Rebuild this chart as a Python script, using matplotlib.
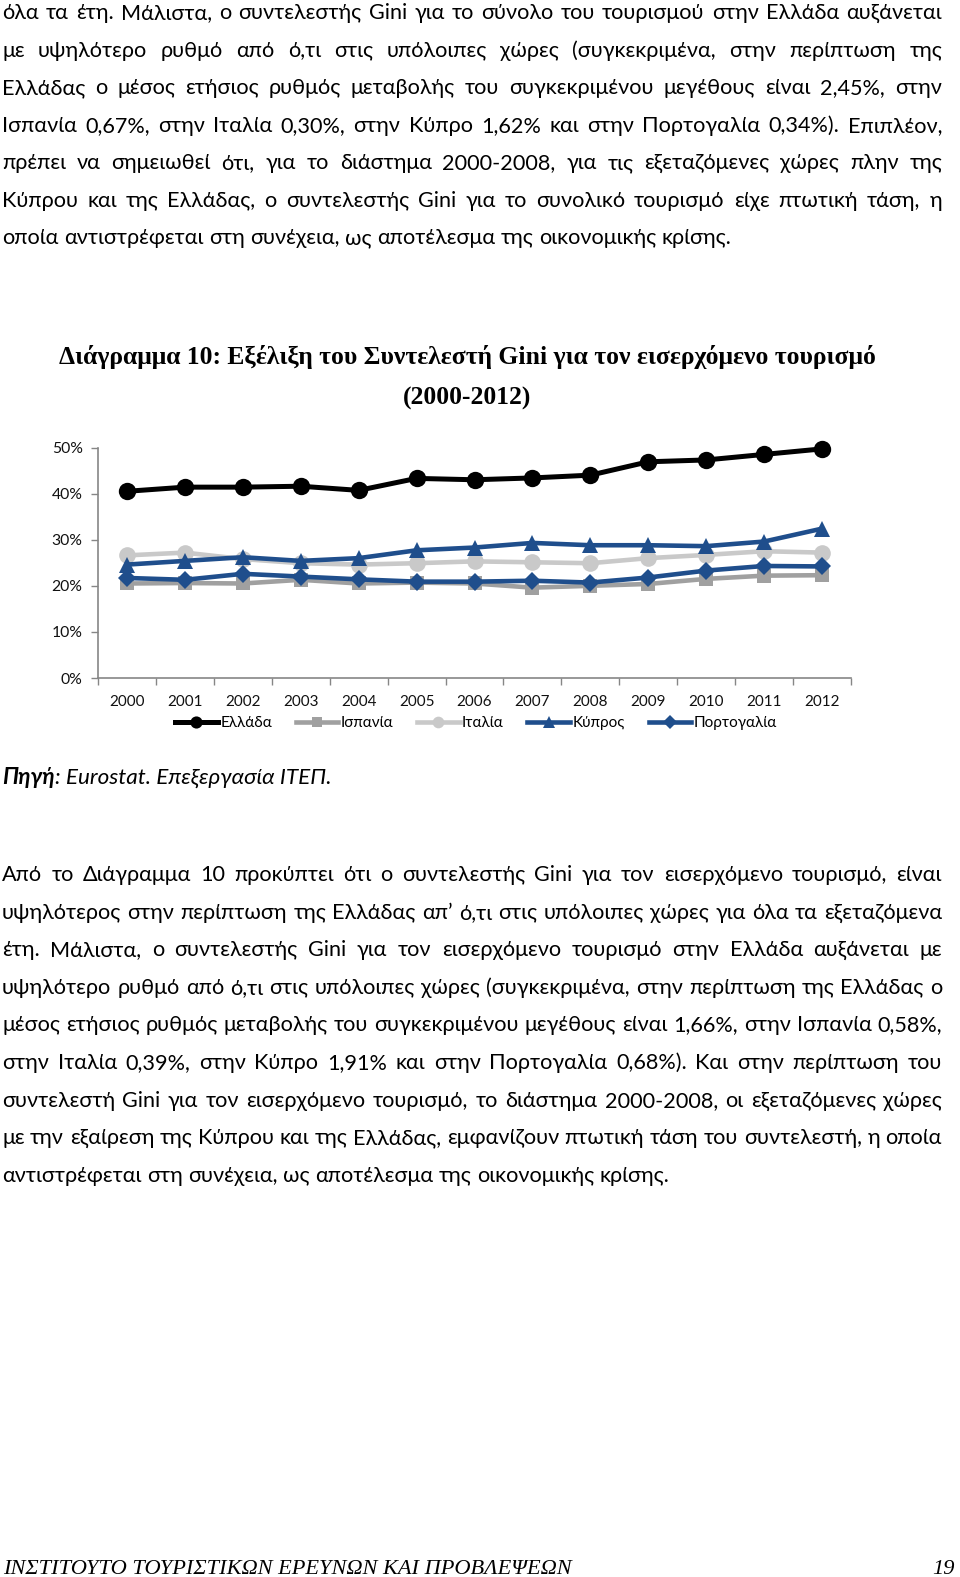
import matplotlib
matplotlib.use('Agg')
import matplotlib.pyplot as plt
from matplotlib.lines import Line2D
import numpy as np

# ---------------- data ----------------
years = ['2000', '2001', '2002', '2003', '2004', '2005', '2006',
         '2007', '2008', '2009', '2010', '2011', '2012']
greece = [40.5, 41.4, 41.4, 41.6, 40.7, 43.3, 43.0, 43.4, 44.0, 46.9, 47.3, 48.5, 49.7]
spain = [20.5, 20.6, 20.5, 21.3, 20.5, 20.7, 20.5, 19.6, 20.0, 20.4, 21.5, 22.2, 22.3]
italy = [26.6, 27.2, 25.8, 24.9, 24.6, 24.9, 25.3, 25.1, 24.9, 26.0, 26.7, 27.5, 27.2]
cyprus = [24.6, 25.4, 26.2, 25.4, 26.0, 27.7, 28.3, 29.3, 28.8, 28.8, 28.6, 29.6, 32.4]
portugal = [21.7, 21.3, 22.6, 22.0, 21.4, 20.9, 20.9, 21.1, 20.7, 21.8, 23.3, 24.3, 24.2]
series_names = ['Ελλάδα', 'Ισπανία', 'Ιταλία', 'Κύπρος', 'Πορτογαλία']
ytick_values = [0, 10, 20, 30, 40, 50]
ytick_labels = ['0%', '10%', '20%', '30%', '40%', '50%']

title_lines = ['Διάγραμμα 10: Εξέλιξη του Συντελεστή Gini για τον εισερχόμενο τουρισμό',
               '(2000-2012)']

para1 = [
    'όλα τα έτη. Μάλιστα, ο συντελεστής Gini για το σύνολο του τουρισμού στην Ελλάδα αυξάνεται',
    'με υψηλότερο ρυθμό από ό,τι στις υπόλοιπες χώρες (συγκεκριμένα, στην περίπτωση της',
    'Ελλάδας ο μέσος ετήσιος ρυθμός μεταβολής του συγκεκριμένου μεγέθους είναι 2,45%, στην',
    'Ισπανία 0,67%, στην Ιταλία 0,30%, στην Κύπρο 1,62% και στην Πορτογαλία 0,34%). Επιπλέον,',
    'πρέπει να σημειωθεί ότι, για το διάστημα 2000-2008, για τις εξεταζόμενες χώρες πλην της',
    'Κύπρου και της Ελλάδας, ο συντελεστής Gini για το συνολικό τουρισμό είχε πτωτική τάση, η',
    'οποία αντιστρέφεται στη συνέχεια, ως αποτέλεσμα της οικονομικής κρίσης.',
]
para2 = [
    'Από το Διάγραμμα 10 προκύπτει ότι ο συντελεστής Gini για τον εισερχόμενο τουρισμό, είναι',
    'υψηλότερος στην περίπτωση της Ελλάδας απ’ ό,τι στις υπόλοιπες χώρες για όλα τα εξεταζόμενα',
    'έτη. Μάλιστα, ο συντελεστής Gini για τον εισερχόμενο τουρισμό στην Ελλάδα αυξάνεται με',
    'υψηλότερο ρυθμό από ό,τι στις υπόλοιπες χώρες (συγκεκριμένα, στην περίπτωση της Ελλάδας ο',
    'μέσος ετήσιος ρυθμός μεταβολής του συγκεκριμένου μεγέθους είναι 1,66%, στην Ισπανία 0,58%,',
    'στην Ιταλία 0,39%, στην Κύπρο 1,91% και στην Πορτογαλία 0,68%). Και στην περίπτωση του',
    'συντελεστή Gini για τον εισερχόμενο τουρισμό, το διάστημα 2000-2008, οι εξεταζόμενες χώρες',
    'με την εξαίρεση της Κύπρου και της Ελλάδας, εμφανίζουν πτωτική τάση του συντελεστή, η οποία',
    'αντιστρέφεται στη συνέχεια, ως αποτέλεσμα της οικονομικής κρίσης.',
]
source_bold = 'Πηγή'
source_rest = ': Eurostat. Επεξεργασία ΙΤΕΠ.'
footer_text = 'ΙΝΣΤΙΤΟΥΤΟ ΤΟΥΡΙΣΤΙΚΩΝ ΕΡΕΥΝΩΝ ΚΑΙ ΠΡΟΒΛΕΨΕΩΝ'
page_number = '19'

# ---------------- figure ----------------
W, H = 960, 1577
fig = plt.figure(figsize=(W / 100, H / 100), dpi=100)
renderer = fig.canvas.get_renderer()
BODY = ['Lato', 'Roboto', 'DejaVu Sans']
SERIF = ['Liberation Serif', 'DejaVu Serif']


def fx(x):
    return x / W


def fy(y):
    return 1 - y / H


def measure(s, size, family=BODY, **kw):
    t = fig.text(0, 0, s, fontsize=size, family=family, **kw)
    w = t.get_window_extent(renderer).width
    t.remove()
    return w


def fit_size(s, target, size0, family, **kw):
    w = measure(s, size0, family, **kw)
    return size0 * target / w


def draw_line(text, ybase, x0, x1, size, justify, family=BODY, **kw):
    words = text.split(' ')
    while True:
        widths = [measure(w, size, family, **kw) for w in words]
        space = measure('x x', size, family, **kw) - measure('xx', size, family, **kw)
        if justify and len(words) > 1:
            gap = (x1 - x0 - sum(widths)) / (len(words) - 1)
            if gap < 0.7 * space:
                size *= 0.99
                continue
        else:
            gap = space
        break
    x = x0
    for w, wd in zip(words, widths):
        fig.text(fx(x), fy(ybase), w, fontsize=size, family=family,
                 ha='left', va='baseline', color='black', **kw)
        x += wd + gap


BASE = 15.6
LEFT, RIGHT = 2, 942
for i, line in enumerate(para1):
    draw_line(line, 19 + 37.55 * i, LEFT, RIGHT, BASE, justify=(i < len(para1) - 1))
for i, line in enumerate(para2):
    draw_line(line, 881 + 37.6 * i, LEFT, RIGHT, BASE, justify=(i < len(para2) - 1))

# source line
SRC = 16.2
sb = fig.text(fx(2), fy(784), source_bold, fontsize=SRC, family=BODY,
              style='italic', weight='bold', va='baseline')
wb = sb.get_window_extent(renderer).width
fig.text(fx(2 + wb), fy(784), source_rest, fontsize=SRC, family=BODY,
         style='italic', va='baseline')

# title
ts = fit_size(title_lines[0], 818, 16, SERIF, weight='bold')
fig.text(fx(467), fy(364), title_lines[0], fontsize=ts, family=SERIF,
         weight='bold', ha='center', va='baseline')
fig.text(fx(467), fy(405), title_lines[1], fontsize=ts, family=SERIF,
         weight='bold', ha='center', va='baseline')

# footer
fsz = fit_size(footer_text, 570, 20, SERIF, style='italic')
fig.text(fx(3), fy(1574), footer_text, fontsize=fsz, family=SERIF,
         style='italic', ha='left', va='baseline')
fig.text(fx(955), fy(1574), page_number, fontsize=fsz, family=SERIF,
         style='italic', ha='right', va='baseline')

# ---------------- chart ----------------
ax_l, ax_r, ax_t, ax_b = 98, 851, 447.5, 678
ax = fig.add_axes([fx(ax_l), fy(ax_b), fx(ax_r - ax_l), (ax_b - ax_t) / H])
x = np.arange(len(years))
BLUE = '#1F4E8C'
styles = [
    dict(color='black', marker='o', ms=12.5, lw=3.6),
    dict(color='#A0A0A0', marker='s', ms=10, lw=3.3),
    dict(color='#C9C9C9', marker='o', ms=12, lw=3.3),
    dict(color=BLUE, marker='^', ms=11.5, lw=3.3),
    dict(color=BLUE, marker='D', ms=9.5, lw=3.3),
]
for vals, st in zip([greece, spain, italy, cyprus, portugal], styles):
    ax.plot(x, np.array(vals), clip_on=False, markeredgewidth=0, **st)

ax.set_xlim(-0.5, len(years) - 0.5)
ax.set_ylim(0, 50)
ax.set_yticks(ytick_values)
ax.set_yticklabels(ytick_labels)
ax.set_xticks(x)
ax.set_xticklabels(years)
ax.set_xticks(np.arange(-0.5, len(years), 1), minor=True)
GRAY = '#868686'
for s in ['top', 'right']:
    ax.spines[s].set_visible(False)
for s in ['left', 'bottom']:
    ax.spines[s].set_color(GRAY)
    ax.spines[s].set_linewidth(1.2)
ax.tick_params(axis='x', which='major', length=0, pad=12, labelsize=11,
               labelcolor='#111111')
ax.tick_params(axis='x', which='minor', length=5, color=GRAY, width=1)
ax.tick_params(axis='y', length=5, color=GRAY, width=1, pad=6, labelsize=11.3,
               labelcolor='#111111')
for lab in ax.get_xticklabels() + ax.get_yticklabels():
    lab.set_family(BODY)

handles = [Line2D([0], [0], markeredgewidth=0, **dict(st, ms=st['ms'] * 0.7))
           for st in styles]
leg = fig.legend(handles, series_names, loc='center', ncol=5,
                 bbox_to_anchor=(fx(476), fy(723)), frameon=False,
                 prop={'family': BODY, 'size': 11}, handlelength=2.8,
                 handletextpad=0.15, columnspacing=1.55, borderpad=0)

fig.savefig('out.png', dpi=100)
